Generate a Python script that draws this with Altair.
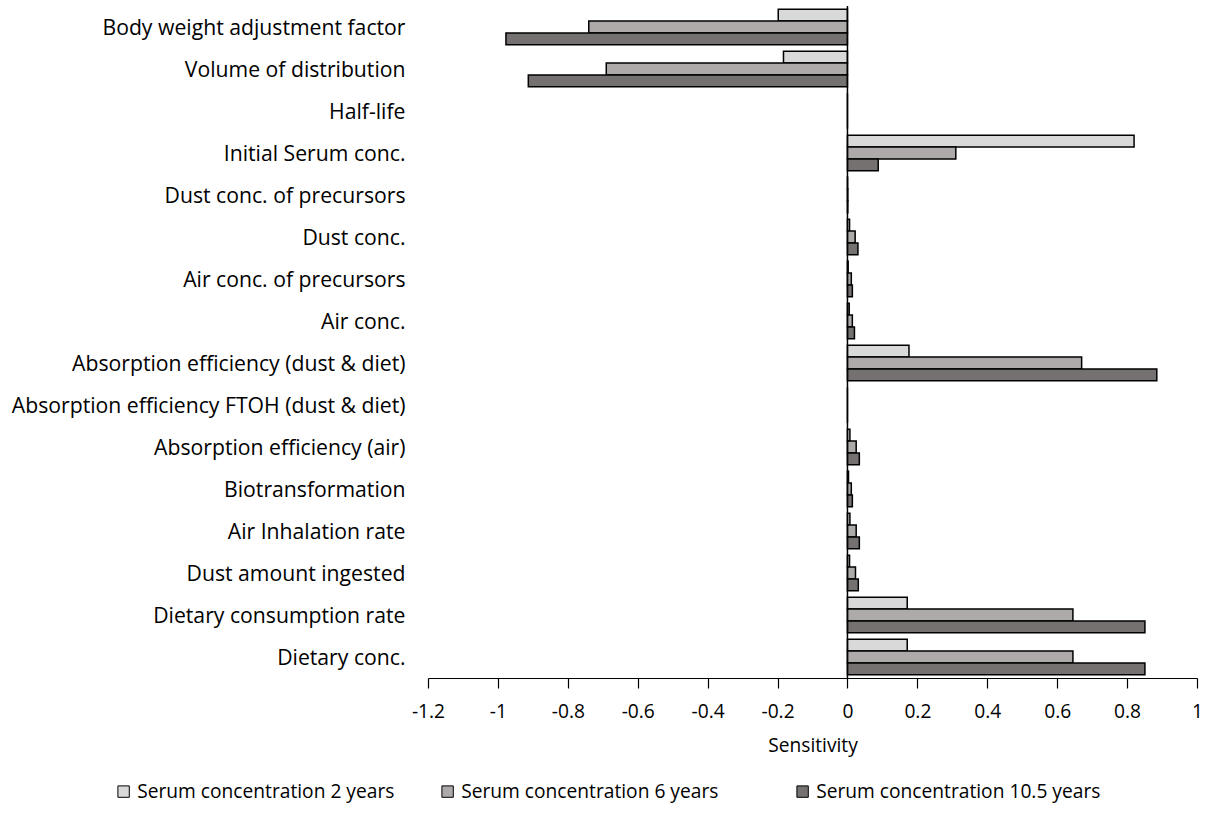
import altair as alt
import pandas as pd

categories = [
    "Body weight adjustment factor",
    "Volume of distribution",
    "Half-life",
    "Initial Serum conc.",
    "Dust conc. of precursors",
    "Dust conc.",
    "Air conc. of precursors",
    "Air conc.",
    "Absorption efficiency (dust & diet)",
    "Absorption efficiency FTOH (dust & diet)",
    "Absorption efficiency (air)",
    "Biotransformation",
    "Air Inhalation rate",
    "Dust amount ingested",
    "Dietary consumption rate",
    "Dietary conc.",
]
series = [
    "Serum concentration 2 years",
    "Serum concentration 6 years",
    "Serum concentration 10.5 years",
]
vals_2y = [-0.198, -0.183, 0.0, 0.82, 0.0005, 0.006, 0.002, 0.005, 0.176, 0.0, 0.007, 0.003, 0.007, 0.006, 0.171, 0.171]
vals_6y = [-0.74, -0.69, 0.0, 0.31, 0.001, 0.022, 0.011, 0.014, 0.67, 0.0, 0.025, 0.011, 0.025, 0.023, 0.645, 0.645]
vals_10y = [-0.977, -0.913, 0.0, 0.088, 0.001, 0.030, 0.014, 0.020, 0.885, 0.0, 0.034, 0.014, 0.034, 0.031, 0.851, 0.851]
colors = ["#d9d9d9", "#aeaaaa", "#767171"]
x_ticks = [-1.2, -1, -0.8, -0.6, -0.4, -0.2, 0, 0.2, 0.4, 0.6, 0.8, 1]
legend_x = [-314, 10, 365]

FONT = "Open Sans"
FS_Y = 21.2
FS = 19.2

x_enc = alt.X(
    "value:Q",
    scale=alt.Scale(domain=[-1.2, 1], nice=False, zero=False),
    axis=alt.Axis(
        values=x_ticks,
        labelExpr="toString(datum.value)",
        title="Sensitivity",
        grid=False,
        tickSize=10,
        tickColor="black",
        domainColor="black",
        tickWidth=1.2,
        domainWidth=1.2,
        labelPadding=14,
        titlePadding=15,
        labelFontSize=FS,
        titleFontSize=FS,
        labelFont=FONT,
        titleFont=FONT,
        titleFontWeight="normal",
        labelColor="black",
        titleColor="black",
        labelFlush=False,
    ),
)
y_enc = alt.Y(
    "param:N",
    sort=categories,
    scale=alt.Scale(domain=categories, paddingInner=0.15, paddingOuter=0.075),
    axis=alt.Axis(
        title=None,
        domain=False,
        ticks=False,
        labelPadding=23,
        labelOffset=2,
        labelFontSize=FS_Y,
        labelFont=FONT,
        labelColor="black",
        labelLimit=600,
    ),
)
yoff_enc = alt.YOffset(
    "series:N", scale=alt.Scale(domain=series, paddingInner=0, paddingOuter=0)
)

layers = []
for s, vals, col, lx in zip(series, [vals_2y, vals_6y, vals_10y], colors, legend_x):
    d = pd.DataFrame({"param": categories, "series": s, "value": vals})
    layer = alt.Chart(d).mark_bar(stroke="black", strokeWidth=1.5).encode(
        x=x_enc,
        y=y_enc,
        yOffset=yoff_enc,
        color=alt.Color(
            "series:N",
            scale=alt.Scale(domain=[s], range=[col]),
            legend=alt.Legend(
                title=None,
                orient="none",
                direction="horizontal",
                legendX=lx,
                legendY=776,
                symbolType="square",
                symbolSize=130,
                symbolStrokeColor="black",
                symbolStrokeWidth=1,
                symbolOpacity=1,
                labelFont=FONT,
                labelFontSize=FS,
                labelColor="black",
                labelLimit=600,
                labelOffset=4,
            ),
        ),
    )
    layers.append(layer)

zero_line = alt.Chart(pd.DataFrame({"x": [0]})).mark_rule(color="black", strokeWidth=1.5).encode(
    x=alt.X("x:Q")
)

chart = alt.layer(*layers, zero_line).resolve_scale(color="independent").properties(
    width=769,
    height=672,
    background="white",
    autosize=alt.AutoSizeParams(type="none"),
    padding={"left": 428, "top": 6, "right": 13, "bottom": 156},
).configure_view(stroke=None)

chart.save("out.html", embed_options={"renderer": "svg", "actions": False})
